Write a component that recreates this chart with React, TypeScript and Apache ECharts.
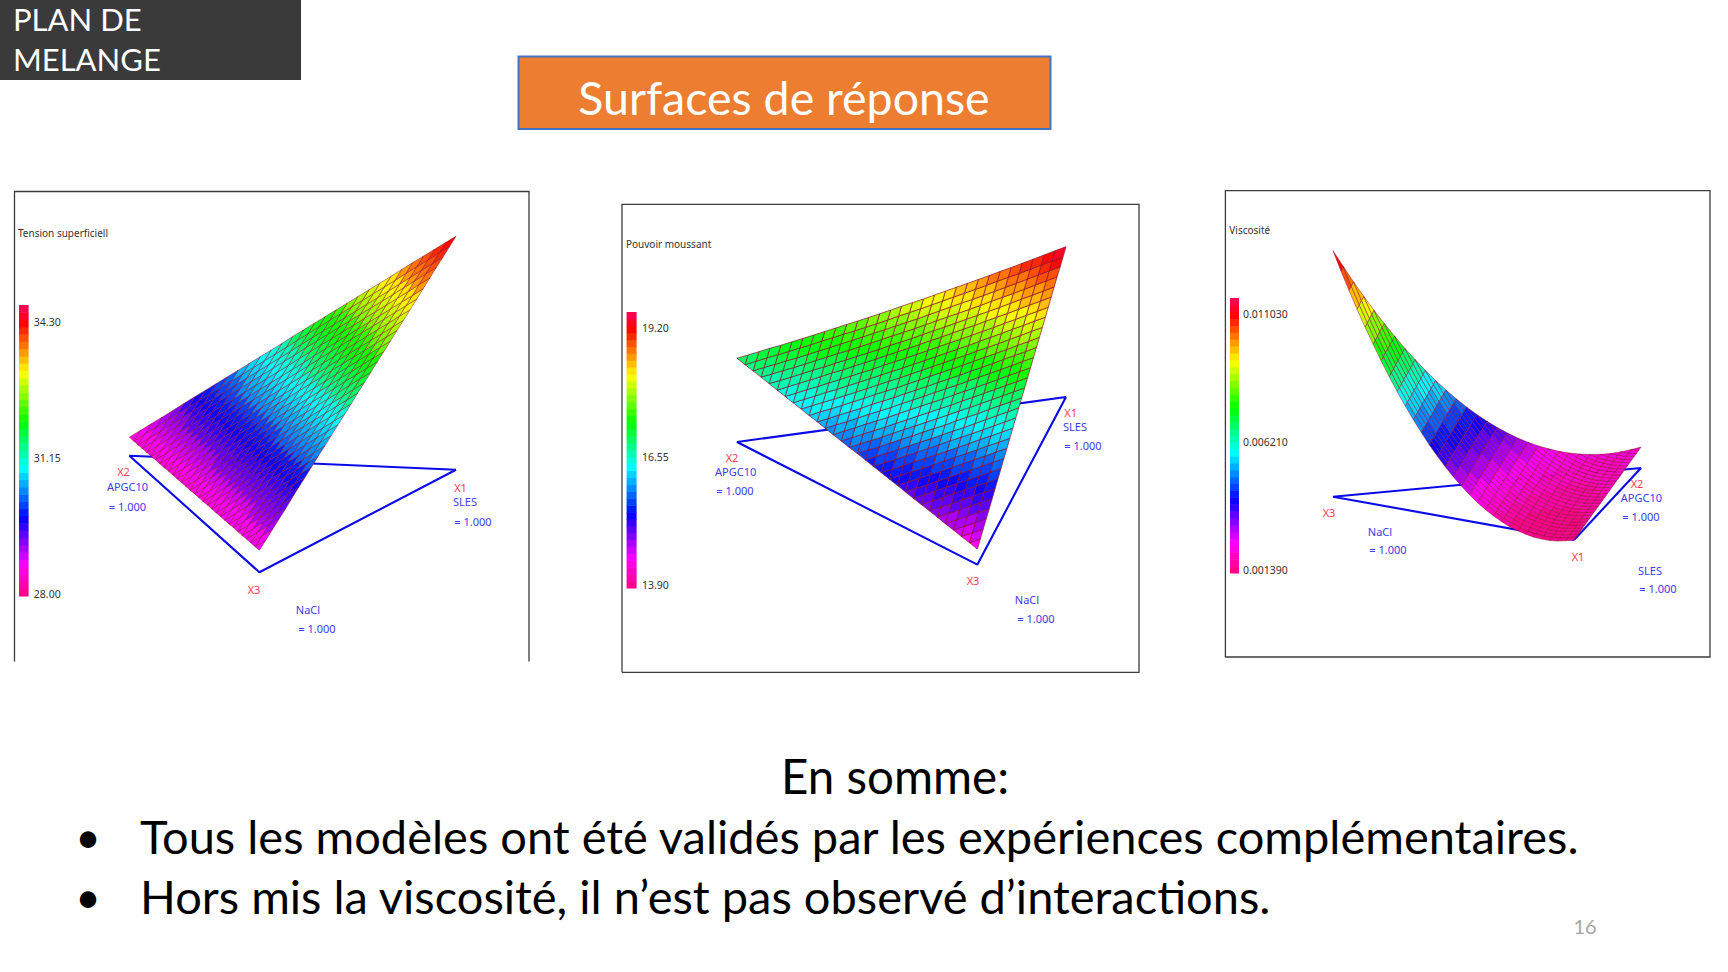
import React, { useEffect, useRef } from "react";
import * as echarts from "echarts";

// Ternary lattice: row r has x3 = r/30, column j has x2 = j/30, x1 = the rest.
const tensionRows = [
[34.50,34.30,34.10,33.90,33.70,33.50,33.29,33.09,32.89,32.69,32.49,32.29,32.09,31.89,31.69,31.49,31.28,31.08,30.88,30.68,30.48,30.28,30.08,29.88,29.68,29.48,29.27,29.07,28.87,28.67,28.47],
[34.30,34.10,33.90,33.70,33.50,33.29,33.09,32.89,32.69,32.49,32.29,32.09,31.89,31.69,31.49,31.28,31.08,30.88,30.68,30.48,30.28,30.08,29.88,29.68,29.48,29.27,29.07,28.87,28.67,28.47],
[34.10,33.90,33.70,33.50,33.29,33.09,32.89,32.69,32.49,32.29,32.09,31.89,31.69,31.49,31.28,31.08,30.88,30.68,30.48,30.28,30.08,29.88,29.68,29.48,29.27,29.07,28.87,28.67,28.47],
[33.91,33.71,33.51,33.30,33.10,32.90,32.70,32.50,32.30,32.10,31.90,31.70,31.50,31.29,31.09,30.89,30.69,30.49,30.29,30.09,29.89,29.69,29.49,29.28,29.08,28.88,28.68,28.48],
[33.71,33.51,33.30,33.10,32.90,32.70,32.50,32.30,32.10,31.90,31.70,31.50,31.29,31.09,30.89,30.69,30.49,30.29,30.09,29.89,29.69,29.49,29.28,29.08,28.88,28.68,28.48],
[33.51,33.30,33.10,32.90,32.70,32.50,32.30,32.10,31.90,31.70,31.50,31.29,31.09,30.89,30.69,30.49,30.29,30.09,29.89,29.69,29.49,29.28,29.08,28.88,28.68,28.48],
[33.31,33.11,32.91,32.71,32.51,32.31,32.11,31.91,31.71,31.51,31.30,31.10,30.90,30.70,30.50,30.30,30.10,29.90,29.70,29.50,29.29,29.09,28.89,28.69,28.49],
[33.11,32.91,32.71,32.51,32.31,32.11,31.91,31.71,31.51,31.30,31.10,30.90,30.70,30.50,30.30,30.10,29.90,29.70,29.50,29.29,29.09,28.89,28.69,28.49],
[32.91,32.71,32.51,32.31,32.11,31.91,31.71,31.51,31.30,31.10,30.90,30.70,30.50,30.30,30.10,29.90,29.70,29.50,29.29,29.09,28.89,28.69,28.49],
[32.72,32.52,32.32,32.12,31.92,31.72,31.52,31.31,31.11,30.91,30.71,30.51,30.31,30.11,29.91,29.71,29.51,29.30,29.10,28.90,28.70,28.50],
[32.52,32.32,32.12,31.92,31.72,31.52,31.31,31.11,30.91,30.71,30.51,30.31,30.11,29.91,29.71,29.51,29.30,29.10,28.90,28.70,28.50],
[32.32,32.12,31.92,31.72,31.52,31.31,31.11,30.91,30.71,30.51,30.31,30.11,29.91,29.71,29.51,29.30,29.10,28.90,28.70,28.50],
[32.13,31.93,31.73,31.53,31.32,31.12,30.92,30.72,30.52,30.32,30.12,29.92,29.72,29.52,29.31,29.11,28.91,28.71,28.51],
[31.93,31.73,31.53,31.32,31.12,30.92,30.72,30.52,30.32,30.12,29.92,29.72,29.52,29.31,29.11,28.91,28.71,28.51],
[31.73,31.53,31.32,31.12,30.92,30.72,30.52,30.32,30.12,29.92,29.72,29.52,29.31,29.11,28.91,28.71,28.51],
[31.54,31.33,31.13,30.93,30.73,30.53,30.33,30.13,29.93,29.73,29.53,29.32,29.12,28.92,28.72,28.52],
[31.33,31.13,30.93,30.73,30.53,30.33,30.13,29.93,29.73,29.53,29.32,29.12,28.92,28.72,28.52],
[31.13,30.93,30.73,30.53,30.33,30.13,29.93,29.73,29.53,29.32,29.12,28.92,28.72,28.52],
[30.94,30.74,30.54,30.34,30.14,29.94,29.74,29.54,29.33,29.13,28.93,28.73,28.53],
[30.74,30.54,30.34,30.14,29.94,29.74,29.54,29.33,29.13,28.93,28.73,28.53],
[30.54,30.34,30.14,29.94,29.74,29.54,29.33,29.13,28.93,28.73,28.53],
[30.35,30.15,29.95,29.75,29.55,29.34,29.14,28.94,28.74,28.54],
[30.15,29.95,29.75,29.55,29.34,29.14,28.94,28.74,28.54],
[29.95,29.75,29.55,29.34,29.14,28.94,28.74,28.54],
[29.76,29.56,29.35,29.15,28.95,28.75,28.55],
[29.56,29.35,29.15,28.95,28.75,28.55],
[29.35,29.15,28.95,28.75,28.55],
[29.16,28.96,28.76,28.56],
[28.96,28.76,28.56],
[28.76,28.56],
[28.57],
];
const foamRows = [
[19.40,19.30,19.20,19.10,19.00,18.90,18.81,18.71,18.62,18.53,18.44,18.35,18.26,18.17,18.09,18.01,17.92,17.84,17.76,17.68,17.61,17.53,17.46,17.38,17.31,17.24,17.17,17.11,17.04,16.97,16.91],
[19.23,19.13,19.03,18.93,18.83,18.74,18.65,18.55,18.46,18.37,18.28,18.19,18.10,18.01,17.93,17.85,17.76,17.68,17.60,17.52,17.46,17.38,17.31,17.23,17.16,17.09,17.02,16.96,16.89,16.82],
[19.06,18.97,18.87,18.77,18.67,18.57,18.48,18.38,18.29,18.21,18.12,18.03,17.94,17.85,17.77,17.69,17.61,17.53,17.45,17.37,17.30,17.22,17.15,17.07,17.00,16.94,16.87,16.81,16.74],
[18.90,18.80,18.70,18.60,18.50,18.41,18.32,18.22,18.13,18.04,17.96,17.87,17.78,17.69,17.61,17.54,17.45,17.37,17.29,17.21,17.15,17.07,17.00,16.92,16.85,16.79,16.72,16.66],
[18.73,18.63,18.53,18.44,18.34,18.24,18.15,18.06,17.97,17.88,17.79,17.71,17.62,17.53,17.45,17.38,17.29,17.21,17.14,17.06,16.99,16.91,16.85,16.77,16.70,16.63,16.57],
[18.56,18.46,18.37,18.27,18.17,18.08,17.99,17.89,17.81,17.72,17.63,17.55,17.46,17.37,17.30,17.22,17.13,17.06,16.98,16.90,16.84,16.76,16.69,16.62,16.55,16.48],
[18.39,18.29,18.20,18.10,18.01,17.91,17.82,17.73,17.64,17.56,17.47,17.38,17.30,17.21,17.14,17.06,16.97,16.90,16.82,16.75,16.68,16.60,16.54,16.46,16.40],
[18.22,18.13,18.03,17.94,17.84,17.75,17.66,17.56,17.48,17.39,17.31,17.22,17.14,17.05,16.98,16.90,16.82,16.74,16.67,16.59,16.53,16.45,16.38,16.31],
[18.05,17.96,17.86,17.77,17.67,17.58,17.50,17.40,17.32,17.23,17.15,17.06,16.98,16.89,16.82,16.74,16.66,16.58,16.51,16.43,16.37,16.30,16.23],
[17.89,17.79,17.70,17.60,17.51,17.42,17.33,17.24,17.15,17.07,16.99,16.90,16.82,16.73,16.66,16.59,16.50,16.43,16.35,16.28,16.22,16.14],
[17.72,17.62,17.53,17.44,17.34,17.25,17.17,17.07,16.99,16.91,16.82,16.74,16.66,16.57,16.50,16.43,16.34,16.27,16.20,16.12,16.06],
[17.55,17.46,17.36,17.27,17.18,17.09,17.00,16.91,16.83,16.75,16.66,16.58,16.50,16.41,16.34,16.27,16.19,16.11,16.04,15.97],
[17.38,17.29,17.20,17.10,17.01,16.92,16.84,16.75,16.66,16.58,16.50,16.42,16.34,16.25,16.18,16.11,16.03,15.96,15.88],
[17.21,17.12,17.03,16.94,16.85,16.76,16.67,16.58,16.50,16.42,16.34,16.26,16.18,16.09,16.02,15.95,15.87,15.80],
[17.04,16.95,16.86,16.77,16.68,16.59,16.51,16.42,16.34,16.26,16.18,16.10,16.02,15.93,15.86,15.79,15.71],
[16.88,16.78,16.70,16.61,16.51,16.43,16.35,16.25,16.18,16.10,16.01,15.94,15.86,15.77,15.71,15.64],
[16.71,16.62,16.53,16.44,16.35,16.26,16.18,16.09,16.01,15.93,15.85,15.77,15.70,15.62,15.55],
[16.54,16.45,16.36,16.27,16.18,16.10,16.02,15.93,15.85,15.77,15.69,15.61,15.54,15.46],
[16.37,16.28,16.19,16.11,16.02,15.93,15.85,15.76,15.69,15.61,15.53,15.45,15.38],
[16.20,16.11,16.03,15.94,15.85,15.77,15.69,15.60,15.52,15.45,15.37,15.29],
[16.03,15.95,15.86,15.77,15.69,15.60,15.52,15.44,15.36,15.28,15.21],
[15.87,15.78,15.69,15.61,15.52,15.44,15.36,15.27,15.20,15.12],
[15.70,15.61,15.53,15.44,15.36,15.27,15.20,15.11,15.03],
[15.53,15.44,15.36,15.28,15.19,15.11,15.03,14.95],
[15.36,15.28,15.19,15.11,15.02,14.94,14.87],
[15.19,15.11,15.03,14.94,14.86,14.78],
[15.02,14.94,14.86,14.78,14.69],
[14.86,14.77,14.69,14.61],
[14.69,14.60,14.52],
[14.52,14.44],
[14.35],
];
// Viscosity, in units of 1e-5.
const viscosityRows = [
[139,142,145,148,150,153,156,159,162,165,168,171,173,176,179,182,185,188,191,194,196,199,202,205,208,211,214,217,219,222,225],
[130,133,136,139,142,145,148,151,154,157,160,163,166,169,172,175,178,181,184,187,190,193,196,199,202,205,208,211,214,218],
[123,126,129,133,136,139,142,145,149,152,155,158,161,165,168,171,174,177,181,184,187,190,193,197,200,203,206,209,213],
[119,123,126,130,133,136,140,143,146,150,153,156,160,163,167,170,173,177,180,183,187,190,193,197,200,204,207,210],
[119,122,126,129,133,137,140,144,147,151,154,158,161,165,168,172,175,179,183,186,190,193,197,200,204,207,211],
[121,125,129,132,136,140,143,147,151,154,158,162,166,169,173,177,180,184,188,191,195,199,203,206,210,214],
[127,130,134,138,142,146,150,154,158,162,165,169,173,177,181,185,189,193,196,200,204,208,212,216,220],
[135,139,143,147,151,155,159,163,167,171,175,179,183,188,192,196,200,204,208,212,216,220,224,228],
[146,151,155,159,163,167,172,176,180,184,188,193,197,201,205,209,214,218,222,226,230,235,239],
[161,165,169,174,178,183,187,191,196,200,204,209,213,218,222,226,231,235,239,244,248,253],
[178,182,187,192,196,201,205,210,214,219,223,228,232,237,242,246,251,255,260,264,269],
[198,203,208,212,217,222,227,231,236,241,245,250,255,260,264,269,274,278,283,288],
[221,226,231,236,241,246,251,256,261,265,270,275,280,285,290,295,300,305,309],
[248,253,258,263,268,273,278,283,288,293,298,303,308,313,318,323,329,334],
[277,282,287,293,298,303,308,313,319,324,329,334,339,345,350,355,360],
[309,314,320,325,331,336,341,347,352,358,363,368,374,379,385,390],
[344,350,355,361,366,372,378,383,389,394,400,405,411,416,422],
[382,388,394,399,405,411,417,422,428,434,440,445,451,457],
[423,429,435,441,447,453,459,465,471,477,482,488,494],
[468,474,480,486,492,498,504,510,516,522,528,534],
[515,521,527,533,540,546,552,558,565,571,577],
[565,571,577,584,590,597,603,610,616,623],
[618,624,631,638,644,651,657,664,671],
[674,680,687,694,701,708,714,721],
[733,740,747,754,761,768,775],
[795,802,809,817,824,831],
[860,867,874,882,889],
[927,935,943,950],
[998,1006,1014],
[1072,1081],
[1150],
];

const titles = ["Tension superficiell", "Pouvoir moussant", "Viscosité"];
const tensionTicks = ["34.30", "31.15", "28.00"];
const foamTicks = ["19.20", "16.55", "13.90"];
const viscosityTicks = ["0.011030", "0.006210", "0.001390"];
const bulletTexts = [
  "Tous les modèles ont été validés par les expériences complémentaires.",
  "Hors mis la viscosité, il n’est pas observé d’interactions.",
];

const STOPS: [number, number[]][] = [
  [0, [255, 0, 128]], [0.11, [255, 0, 255]], [0.27, [0, 0, 255]], [0.44, [0, 255, 255]],
  [0.6, [0, 255, 0]], [0.77, [255, 255, 0]], [0.94, [255, 0, 0]], [1, [255, 0, 96]],
];
const BANDS = 40;
function ramp(f: number) {
  const q = Math.max(0, Math.min(BANDS - 1, Math.floor(f * BANDS)));
  const g = (q + 0.5) / BANDS;
  for (let i = 1; i < STOPS.length; i++) {
    if (g <= STOPS[i][0]) {
      const [a, ca] = STOPS[i - 1];
      const [b, cb] = STOPS[i];
      const t = (g - a) / (b - a);
      return `rgb(${ca.map((c, k) => Math.round(c + (cb[k] - c) * t)).join(",")})`;
    }
  }
  return "rgb(255,0,96)";
}

type Lab = [string, number, number, string];
const BLUE = "#3c3cf0", RED = "#ff3c50";
const panels = [
  {
    rows: tensionRows, ticks: tensionTicks, title: titles[0],
    box: { left: 14.5, top: 191.5, width: 514.5, height: 470 }, closed: false,
    corners: [[441.5, 278.2], [114.9, 264.2], [244.9, 380.8]], k: 35.65, v0: 27.95,
    vLo: 27.93, vHi: 34.67, bar: [4.5, 113.5, 9.6, 291], titlePos: [3.5, 41],
    tickX: 19.3, tickY: [130, 266.5, 402.5], strokeW: 0.5,
    labels: [["X1", 446, 295.5, RED], ["X2", 109, 280, RED], ["X3", 239.5, 397.5, RED],
      ["SLES", 450.5, 310, BLUE], ["= 1.000", 458.5, 329.5, BLUE], ["APGC10", 113, 295, BLUE], ["= 1.000", 113, 315, BLUE],
      ["NaCl", 293.5, 417.5, BLUE], ["= 1.000", 302.5, 437, BLUE]] as Lab[],
  },
  {
    rows: foamRows, ticks: foamTicks, title: titles[1],
    box: { left: 622, top: 204.3, width: 517, height: 468 }, closed: true,
    corners: [[444, 192.7], [115, 237.7], [355.4, 360.3]], k: 26.7, v0: 13.77,
    vLo: 13.84, vHi: 19.52, bar: [4.6, 107.7, 10, 276], titlePos: [4, 39.3],
    tickX: 20, tickY: [123.7, 252.7, 381], strokeW: 0.7,
    labels: [["X1", 448.6, 208.6, RED], ["X2", 110, 253.4, RED], ["X3", 351, 376.3, RED],
      ["SLES", 453, 222.5, BLUE], ["= 1.000", 461, 241.6, BLUE], ["APGC10", 113.6, 267.4, BLUE], ["= 1.000", 113, 286.1, BLUE],
      ["NaCl", 405, 395.2, BLUE], ["= 1.000", 414, 414, BLUE]] as Lab[],
  },
  {
    rows: viscosityRows, ticks: viscosityTicks, title: titles[2],
    box: { left: 1225.4, top: 190.7, width: 484.6, height: 466.3 }, closed: true,
    corners: [[348.6, 349.3], [415.6, 277.3], [107.6, 306]], k: 0.2433, v0: 139,
    vLo: 128, vHi: 1166, bar: [4.6, 107.3, 9, 275], titlePos: [3.9, 39.3],
    tickX: 17.6, tickY: [123.3, 251.6, 379.6], strokeW: 0.5,
    labels: [["X1", 352.6, 366, RED], ["X2", 411.6, 292.8, RED], ["X3", 103.6, 321.8, RED],
      ["SLES", 424.6, 379.8, BLUE], ["= 1.000", 432.6, 398.2, BLUE], ["APGC10", 416, 306.8, BLUE], ["= 1.000", 415.6, 325.5, BLUE],
      ["NaCl", 154.6, 340.4, BLUE], ["= 1.000", 162.6, 359, BLUE]] as Lab[],
  },
];

const N = 30;
function project(p: any, x1: number, x2: number, x3: number, v: number) {
  const [a, b, c] = p.corners;
  const lift = p.k * (v - p.v0);
  return [x1 * a[0] + x2 * b[0] + x3 * c[0], x1 * a[1] + x2 * b[1] + x3 * c[1] - lift];
}
function node(p: any, r: number, j: number) {
  return project(p, (N - r - j) / N, j / N, r / N, p.rows[r][j]);
}

function buildOption() {
  const grid: any[] = [], xAxis: any[] = [], yAxis: any[] = [], series: any[] = [], graphic: any[] = [];
  const F = "Lato";
  const text = (t: string, x: number, y: number, size: number, fill: string, family = F, align = "left") =>
    graphic.push({ type: "text", x, y, silent: true, z: 20, style: { text: t, fontSize: size, fontFamily: family, fill, textAlign: align, textVerticalAlign: "middle" } });

  graphic.push({ type: "rect", shape: { x: 0, y: 0, width: 301, height: 80 }, style: { fill: "#3a3a3a" } });
  graphic.push({ type: "rect", shape: { x: 518.5, y: 56.5, width: 532, height: 72.5 }, style: { fill: "#ed7d31", stroke: "#4472c4", lineWidth: 2 } });
  text("PLAN DE", 13, 19, 31, "#ffffff");
  text("MELANGE", 13, 59, 31, "#ffffff");
  text("Surfaces de réponse", 784, 97, 46.5, "#ffffff", F, "center");
  text("En somme:", 895, 775, 47.5, "#000000", F, "center");
  text("•", 88, 836, 44, "#000000", F, "center");
  text("•", 88, 896, 44, "#000000", F, "center");
  text(bulletTexts[0], 140, 836, 47, "#000000");
  text(bulletTexts[1], 140, 896, 47, "#000000");
  text("16", 1585, 926, 20, "#a6a6a6", F, "center");

  panels.forEach((p: any, i) => {
    const { left, top, width, height } = p.box;
    grid.push({ left, top, width, height, show: false });
    xAxis.push({ type: "value", gridIndex: i, min: 0, max: width, show: false });
    yAxis.push({ type: "value", gridIndex: i, min: 0, max: height, inverse: true, show: false });

    const pts = p.closed
      ? [[left, top + height], [left, top], [left + width, top], [left + width, top + height], [left, top + height]]
      : [[left, top + height], [left, top], [left + width, top], [left + width, top + height]];
    graphic.push({ type: "polyline", shape: { points: pts }, style: { stroke: "#3c3c3c", lineWidth: 1.3, fill: "none" } });

    const C = "Noto Sans";
    text(p.title, left + p.titlePos[0], top + p.titlePos[1], 10, "#333333", C);
    p.ticks.forEach((t: string, k: number) => text(t, left + p.tickX, top + p.tickY[k], 10.5, "#333333", C));
    p.labels.forEach(([t, x, y, col]: Lab) => text(t, left + x, top + y, 11, col, C, "center"));

    // floor triangle
    const floor = [[1, 0, 0], [0, 1, 0], [0, 0, 1], [1, 0, 0]].map((c) => project(p, c[0], c[1], c[2], p.v0));
    series.push({
      type: "line", xAxisIndex: i, yAxisIndex: i, data: floor, symbol: "none", silent: true, z: 2, clip: false,
      lineStyle: { color: "#0a0ae6", width: 2.1 },
    });

    // surface
    const cells: number[][] = [];
    for (let r = N - 1; r >= 0; r--) for (let j = 0; j < N - r; j++) cells.push([r, j]);
    series.push({
      type: "custom", xAxisIndex: i, yAxisIndex: i, data: cells, silent: true, z: 3, clip: false,
      renderItem: (_: any, api: any) => {
        const r = api.value(0), j = api.value(1);
        const ids = r + j + 2 <= N ? [[r, j], [r + 1, j], [r + 1, j + 1], [r, j + 1]] : [[r, j], [r + 1, j], [r, j + 1]];
        const mean = ids.reduce((s, [a, b]) => s + p.rows[a][b], 0) / ids.length;
        return {
          type: "polygon",
          shape: { points: ids.map(([a, b]) => api.coord(node(p, a, b))) },
          style: { fill: ramp((mean - p.vLo) / (p.vHi - p.vLo)), stroke: "#8a1030", lineWidth: p.strokeW },
        };
      },
    });

    // colour bar
    const bands = Array.from({ length: BANDS }, (_, q) => [q, 0]);
    series.push({
      type: "custom", xAxisIndex: i, yAxisIndex: i, data: bands, silent: true, z: 3, clip: false,
      renderItem: (_: any, api: any) => {
        const q = api.value(0);
        const [bx, by, bw, bh] = p.bar;
        const y1 = by + bh * (1 - (q + 1) / BANDS), y2 = by + bh * (1 - q / BANDS);
        const a = api.coord([bx, y1]), b = api.coord([bx + bw, y2]);
        return { type: "rect", shape: { x: a[0], y: a[1], width: b[0] - a[0], height: b[1] - a[1] + 0.5 }, style: { fill: ramp((q + 0.5) / BANDS) } };
      },
    });
  });
  return { animation: false, backgroundColor: "#ffffff", grid, xAxis, yAxis, series, graphic };
}

export default function App() {
  const ref = useRef<HTMLDivElement>(null);
  useEffect(() => {
    const chart = echarts.init(ref.current!, undefined, { renderer: "svg" });
    chart.setOption(buildOption() as any);
    return () => chart.dispose();
  }, []);
  return <div ref={ref} style={{ position: "fixed", left: 0, top: 0, width: 1728, height: 972 }} />;
}
